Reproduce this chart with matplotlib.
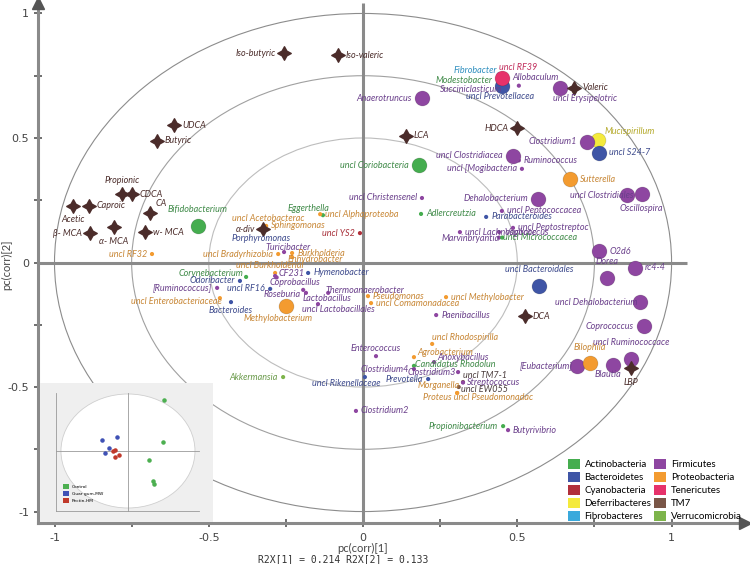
import matplotlib
matplotlib.use('Agg')
import matplotlib.pyplot as plt
from matplotlib.patches import Ellipse, Patch

# phyla, marker fill and label colours
phyla = ['Actinobacteria', 'Bacteroidetes', 'Cyanobacteria', 'Deferribacteres', 'Fibrobacteres',
         'Firmicutes', 'Proteobacteria', 'Tenericutes', 'TM7', 'Verrucomicrobia']
phyla_codes = ['Act', 'Bac', 'Cya', 'Def', 'Fib', 'Fir', 'Pro', 'Ten', 'TM7', 'Ver']
fill_colors = ['#45ad4f', '#3f55a6', '#b1303b', '#f4ea3c', '#3aa9dc',
               '#8e46a1', '#f39b30', '#e6326a', '#7a5647', '#7db44b']
text_colors = ['#3f8a48', '#3e4b8d', '#a8303a', '#b5aa2c', '#2f8fbf',
               '#6a3f8b', '#c88736', '#c2305e', '#4b3d3d', '#6a9a4a']

# metabolites (stars)
metab_names = ['Iso-butyric', 'Iso-valeric', 'UDCA', 'Butyric', 'Propionic', 'CDCA', 'Acetic',
               'Caproic', 'CA', 'β- MCA', 'α- MCA', 'w- MCA', 'α-div', 'LCA', 'HDCA',
               'Valeric', 'DCA', 'LBP']
metab_pc1 = [-0.256, -0.081, -0.613, -0.668, -0.781, -0.749, -0.940,
             -0.888, -0.690, -0.885, -0.807, -0.707, -0.324, 0.139, 0.499,
             0.684, 0.525, 0.869]
metab_pc2 = [0.841, 0.833, 0.552, 0.488, 0.275, 0.275, 0.227,
             0.227, 0.199, 0.118, 0.142, 0.122, 0.134, 0.508, 0.540,
             0.701, -0.215, -0.424]

# bacterial taxa
taxa_names = ['Fibrobacter', 'Modestobacter', 'Succiniclasticum', 'uncl Prevotellacea', 'uncl RF39',
              'Allobaculum', 'uncl Erysipelotric', 'Anaerotruncus', 'uncl Coriobacteria', 'Mucispirillum',
              'Clostridium1', 'uncl S24-7', 'uncl Clostridiacea', 'Ruminococcus', 'uncl [Mogibacteria',
              'Sutterella', 'uncl Clostridiales', 'Oscillospira', 'Dehalobacterium', 'uncl Christensenel',
              'uncl Peptococcacea', 'Parabacteroides', 'Adlercreutzia', 'uncl Peptostreptoc', 'Vagococcus',
              'uncl Lachnospirace', 'Marvinbryantia', 'uncl Micrococcacea', 'O2d6', 'Dorea',
              'rc4-4', 'uncl Bacteroidales', 'uncl Dehalobacterium', 'Coprococcus', 'uncl Ruminococcace',
              'Blautia', '[Eubacterium]', 'Bilophila', 'Bifidobacterium', 'uncl RF32',
              'Eggerthella', 'uncl Alphaproteoba', 'uncl Acetobacterac', 'Sphingomonas', 'Porphyromonas',
              'uncl YS2', 'Turicibacter', 'uncl Bradyrhizobia', 'Burkholderia', 'Enhydrobacter',
              'uncl Burkholderial', 'CF231', 'Hymenobacter', 'Coprobacillus', 'Corynebacterium',
              'Odoribacter', '[Ruminococcus]', 'uncl RF16', 'uncl Enterobacteriaceae', 'Bacteroides',
              'Roseburia', 'Methylobacterium', 'Lactobacillus', 'Thermoanaerobacter', 'uncl Lactobacillales',
              'Pseudomonas', 'uncl Comamonadacea', 'uncl Methylobacter', 'Paenibacillus', 'uncl Rhodospirilla',
              'Enterococcus', 'Agrobacterium', 'Anoxybacillus', 'Candidatus Rhodolun', 'Clostridium4',
              'Clostridium3', 'uncl TM7-1', 'Streptococcus', 'uncl EW055', 'Morganella',
              'Proteus uncl Pseudomonadac', 'Prevotella', 'uncl Rikenellaceae', 'Clostridium2', 'Propionibacterium',
              'Butyrivibrio', 'Akkermansia']
taxa_phylum = ['Fib', 'Act', 'Fir', 'Bac', 'Ten',
               'Fir', 'Fir', 'Fir', 'Act', 'Def',
               'Fir', 'Bac', 'Fir', 'Fir', 'Fir',
               'Pro', 'Fir', 'Fir', 'Fir', 'Fir',
               'Fir', 'Bac', 'Act', 'Fir', 'Fir',
               'Fir', 'Fir', 'Act', 'Fir', 'Fir',
               'Fir', 'Bac', 'Fir', 'Fir', 'Fir',
               'Fir', 'Fir', 'Pro', 'Act', 'Pro',
               'Act', 'Pro', 'Pro', 'Pro', 'Bac',
               'Cya', 'Fir', 'Pro', 'Pro', 'Pro',
               'Pro', 'Fir', 'Bac', 'Fir', 'Act',
               'Bac', 'Fir', 'Bac', 'Pro', 'Bac',
               'Fir', 'Pro', 'Fir', 'Fir', 'Fir',
               'Pro', 'Pro', 'Pro', 'Fir', 'Pro',
               'Fir', 'Pro', 'Fir', 'Act', 'Fir',
               'Fir', 'TM7', 'Fir', 'TM7', 'Pro',
               'Pro', 'Bac', 'Bac', 'Fir', 'Act',
               'Fir', 'Ver']
taxa_pc1 = [0.440, 0.440, 0.450, 0.450, 0.450,
            0.505, 0.640, 0.190, 0.180, 0.760,
            0.725, 0.765, 0.485, 0.505, 0.515,
            0.670, 0.856, 0.905, 0.567, 0.191,
            0.450, 0.399, 0.188, 0.486, 0.441,
            0.314, 0.441, 0.451, 0.765, 0.791,
            0.881, 0.570, 0.898, 0.911, 0.869,
            0.810, 0.694, 0.736, -0.535, -0.684,
            -0.130, -0.139, -0.320, -0.314, -0.322,
            -0.010, -0.256, -0.275, -0.230, -0.230,
            -0.285, -0.285, -0.178, -0.280, -0.379,
            -0.399, -0.473, -0.301, -0.464, -0.428,
            -0.194, -0.250, -0.185, -0.113, -0.146,
            0.016, 0.026, 0.269, 0.237, 0.224,
            0.042, 0.165, 0.230, 0.165, 0.165,
            0.308, 0.324, 0.324, 0.310, 0.305,
            0.305, 0.211, 0.006, -0.023, 0.454,
            0.470, -0.259]
taxa_pc2 = [0.755, 0.730, 0.700, 0.710, 0.740,
            0.710, 0.700, 0.660, 0.390, 0.490,
            0.485, 0.440, 0.428, 0.410, 0.376,
            0.335, 0.271, 0.275, 0.255, 0.259,
            0.207, 0.183, 0.195, 0.139, 0.122,
            0.122, 0.100, 0.100, 0.046, -0.062,
            -0.022, -0.094, -0.159, -0.255, -0.387,
            -0.412, -0.416, -0.404, 0.147, 0.034,
            0.190, 0.194, 0.140, 0.147, 0.130,
            0.118, 0.042, 0.034, 0.038, 0.022,
            -0.042, -0.054, -0.042, -0.060, -0.058,
            -0.074, -0.102, -0.106, -0.143, -0.159,
            -0.110, -0.175, -0.122, -0.122, -0.167,
            -0.135, -0.163, -0.139, -0.211, -0.327,
            -0.376, -0.380, -0.400, -0.415, -0.428,
            -0.440, -0.480, -0.482, -0.500, -0.524,
            -0.524, -0.468, -0.460, -0.596, -0.657,
            -0.673, -0.460]
big_taxa = ['uncl Prevotellacea', 'uncl RF39', 'uncl Erysipelotric', 'Anaerotruncus', 'uncl Coriobacteria',
            'Mucispirillum', 'Clostridium1', 'uncl S24-7', 'uncl Clostridiacea', 'Sutterella',
            'uncl Clostridiales', 'Oscillospira', 'Dehalobacterium', 'O2d6', 'Dorea', 'rc4-4',
            'uncl Bacteroidales', 'uncl Dehalobacterium', 'Coprococcus', 'uncl Ruminococcace',
            'Blautia', '[Eubacterium]', 'Bilophila', 'Bifidobacterium', 'Methylobacterium']

# inset score plot
inset_groups = ['Control', 'Guar gum-MW', 'Pectin-HM']
inset_colors = ['#4caf50', '#3f51b5', '#c0392b']
inset_t1 = [[0.54, 0.52, 0.31, 0.37, 0.39],
            [-0.39, -0.16, -0.28, -0.34],
            [-0.22, -0.19, -0.19, -0.13]]
inset_t2 = [[0.90, 0.16, -0.16, -0.53, -0.58],
            [0.19, 0.25, 0.05, -0.04],
            [0.00, 0.01, -0.11, -0.07]]

# label placement: code or (dx px, dy px, ha)
label_pos = {
    'Fibrobacter': (-2, 4, 'right'), 'Modestobacter': (-6, 0, 'right'),
    'Succiniclasticum': (0, -1, 'right'), 'uncl Prevotellacea': (-2, -11, 'center'),
    'uncl RF39': (-3, 11, 'left'), 'Allobaculum': (-7, 8, 'left'),
    'uncl Erysipelotric': (-7, -10, 'left'), 'Anaerotruncus': 'l', 'uncl Coriobacteria': 'l',
    'Mucispirillum': (7, 9, 'left'), 'Clostridium1': 'l', 'uncl Clostridiacea': 'l',
    'uncl [Mogibacteria': 'l', 'uncl Clostridiales': (6, 0, 'right'),
    'Oscillospira': (-1, -14, 'center'), 'Dehalobacterium': 'l', 'uncl Christensenel': 'l',
    'Marvinbryantia': (1, -1, 'right'), 'uncl Micrococcacea': (1, 0, 'left'),
    'Dorea': 'a', 'uncl Bacteroidales': 'a', 'uncl Dehalobacterium': (-3, 0, 'right'),
    'Coprococcus': 'l', 'uncl Ruminococcace': 'a', 'Blautia': (-5, -9, 'center'),
    'Bilophila': 'a', '[Eubacterium]': (-4, 0, 'right'), 'Bifidobacterium': 'a',
    'uncl RF32': 'l', 'Eggerthella': (7, 7, 'right'), 'uncl Acetobacterac': (-32, 9, 'left'),
    'Porphyromonas': (-32, -8, 'left'), 'uncl YS2': 'l', 'Turicibacter': (-19, 5, 'left'),
    'uncl Bradyrhizobia': 'l', 'Enhydrobacter': (-5, -2, 'left'),
    'uncl Burkholderial': (-5, 7, 'center'), 'CF231': (3, 2, 'left'),
    'Coprobacillus': (-7, -5, 'left'), 'Corynebacterium': (-3, 3, 'right'),
    'Odoribacter': 'l', '[Ruminococcus]': 'l', 'uncl RF16': 'l',
    'uncl Enterobacteriaceae': (2, -3, 'right'), 'Bacteroides': (0, -8, 'center'),
    'Roseburia': (-2, -5, 'right'), 'Methylobacterium': (-8, -12, 'center'),
    'Lactobacillus': (-3, -6, 'left'), 'Thermoanaerobacter': (-3, 2, 'left'),
    'uncl Lactobacillales': (-16, -5, 'left'), 'uncl Rhodospirilla': (0, 6, 'left'),
    'Enterococcus': (0, 8, 'center'), 'Agrobacterium': (3, 5, 'left'),
    'Anoxybacillus': (3, 5, 'left'), 'Candidatus Rhodolun': (1, 1, 'left'),
    'Clostridium4': 'l', 'Clostridium3': (-2, 0, 'right'), 'uncl TM7-1': (0, 7, 'left'),
    'Streptococcus': (4, 0, 'left'), 'uncl EW055': (2, -2, 'left'),
    'Morganella': (3, 8, 'right'), 'Proteus uncl Pseudomonadac': (-34, -5, 'left'),
    'Prevotella': 'l', 'uncl Rikenellaceae': (-19, -6, 'center'),
    'Propionibacterium': 'l', 'Akkermansia': 'l',
}
metab_pos = {'Iso-butyric': 'l', 'Propionic': 'a', 'Acetic': 'b', 'CA': (5, 9, 'left'),
             'β- MCA': 'l', 'α- MCA': 'b', 'α-div': 'l', 'HDCA': 'l', 'LBP': 'b'}

FONT = ['Lato', 'DejaVu Sans']
STAR_COLOR = '#4b2c2a'
AXIS_GRAY = '#8a8a8a'


def place(code, r):
    if isinstance(code, tuple):
        return code
    if code == 'l':
        return (-r, 0, 'right')
    if code == 'a':
        return (0, r + 6, 'center')
    if code == 'b':
        return (0, -(r + 6), 'center')
    return (r, 0, 'left')


def put_label(ax, text, x, y, code, r, color):
    dx, dy, ha = place(code, r)
    ax.annotate(text, (x, y), xytext=(dx, dy), textcoords='offset pixels',
                ha=ha, va='center', fontsize=6.5, style='italic', family=FONT,
                color=color, zorder=6)


fig = plt.figure(figsize=(7.5, 5.64), dpi=100)
ax = fig.add_axes([38 / 750, 41 / 564, 707 / 750, 520 / 564])
xmin, xmax = -1.0535, 1.238
ymin, ymax = -1.046, 1.042
ax.set_xlim(xmin, xmax)
ax.set_ylim(ymin, ymax)

# correlation circles
for rad, col in zip([1.0, 0.75, 0.5], ['#8c8c8c', '#a0a0a0', '#bdbdbd']):
    ax.add_patch(Ellipse((0, 0), 2 * rad, 2 * rad, fill=False, ec=col, lw=0.8, zorder=1))

# zero lines
ax.plot([xmin, 1.05], [0, 0], color=AXIS_GRAY, lw=2.2, zorder=2, solid_capstyle='butt')
ax.plot([0, 0], [ymin, ymax], color=AXIS_GRAY, lw=2.2, zorder=2, solid_capstyle='butt')

for side in ['top', 'right']:
    ax.spines[side].set_visible(False)
for side in ['left', 'bottom']:
    ax.spines[side].set_color(AXIS_GRAY)
    ax.spines[side].set_linewidth(2.2)
ax.plot([xmin], [ymax], marker='^', ms=8, color='#555555', clip_on=False, zorder=3)
ax.plot([xmax], [ymin], marker='>', ms=8, color='#555555', clip_on=False, zorder=3)

ticks = [-1, -0.5, 0, 0.5, 1]
ax.set_xticks(ticks)
ax.set_xticklabels(['-1', '-0.5', '0', '0.5', '1'])
ax.set_yticks(ticks)
ax.set_yticklabels(['-1', '-0.5', '0', '0.5', '1'])
ax.set_xticks([-0.75, -0.25, 0.25, 0.75], minor=True)
ax.set_yticks([-0.75, -0.25, 0.25, 0.75], minor=True)
ax.tick_params(which='both', direction='inout', length=6, width=1.4, color='#6f6f6f',
               labelsize=8, labelcolor='#444444')
ax.tick_params(axis='x', pad=4)
ax.set_facecolor('white')

# taxa points, small first then big on top
for big in [False, True]:
    for name, ph, x, y in zip(taxa_names, taxa_phylum, taxa_pc1, taxa_pc2):
        if (name in big_taxa) != big:
            continue
        i = phyla_codes.index(ph)
        ax.scatter(x, y, s=115 if big else 9, color=fill_colors[i],
                   edgecolor='#00000030' if big else 'none', lw=0.5, zorder=4 if big else 3)

for name, ph, x, y in zip(taxa_names, taxa_phylum, taxa_pc1, taxa_pc2):
    i = phyla_codes.index(ph)
    r = 10 if name in big_taxa else 5
    put_label(ax, name, x, y, label_pos.get(name, 'r'), r, text_colors[i])

# metabolites
ax.scatter(metab_pc1, metab_pc2, marker=(4, 1, 0), s=95, color=STAR_COLOR, zorder=5)
for name, x, y in zip(metab_names, metab_pc1, metab_pc2):
    put_label(ax, name, x, y, metab_pos.get(name, 'r'), 8, STAR_COLOR)

# phylum legend
handles = [Patch(facecolor=c, edgecolor='none') for c in fill_colors]
ax.legend(handles, phyla, ncol=2, loc='lower left', bbox_to_anchor=(568 / 750, 43 / 564),
          bbox_transform=fig.transFigure, frameon=False, fontsize=7,
          prop={'family': FONT, 'size': 7}, handlelength=1.2, handleheight=1.2,
          labelspacing=0.28, handletextpad=0.5, columnspacing=0.3, borderpad=0,
          borderaxespad=0)

fig.text(7 / 750, 1 - 265 / 564, 'pc(corr)[2]', rotation=90, ha='center', va='center',
         fontsize=8, color='#444444', family=FONT)
fig.text(363 / 750, 1 - 548 / 564, 'pc(corr)[1]', ha='center', va='center',
         fontsize=8, color='#444444', family=FONT)
fig.text(343 / 750, 1 - 559 / 564, 'R2X[1] = 0.214 R2X[2] = 0.133', ha='center', va='center',
         fontsize=7, color='#333333', family='DejaVu Sans Mono')

# inset: score plot
ins = fig.add_axes([40 / 750, 42 / 564, 173 / 750, 139 / 564])
ins.set_facecolor('#efefef')
ins.set_xlim(-1.313, 1.269)
ins.set_ylim(-1.246, 1.193)
for s in ins.spines.values():
    s.set_visible(False)
ins.set_xticks([])
ins.set_yticks([])
ins.add_patch(Ellipse((0, 0), 2, 2, fc='white', ec='#cfcfcf', lw=0.6, zorder=1))
ins.plot([-1.075, 1.06], [0, 0], color='#9a9a9a', lw=0.6, zorder=2)
ins.plot([0, 0], [-1.05, 1.02], color='#9a9a9a', lw=0.6, zorder=2)
ins.plot([-1.075, -1.075], [-1.05, 1.02], color='#9a9a9a', lw=0.6, zorder=2)
ins.plot([-1.075, 1.06], [-1.05, -1.05], color='#9a9a9a', lw=0.6, zorder=2)
for t1, t2, c in zip(inset_t1, inset_t2, inset_colors):
    ins.scatter(t1, t2, s=5, color=c, zorder=3)
ins.legend([Patch(facecolor=c) for c in inset_colors], inset_groups, loc='lower left',
           bbox_to_anchor=(0.12, 0.12), frameon=False, fontsize=3.2,
           handlelength=1.4, handleheight=1.4, labelspacing=0.4, handletextpad=0.6,
           borderpad=0)

fig.savefig('out.png', dpi=100)
